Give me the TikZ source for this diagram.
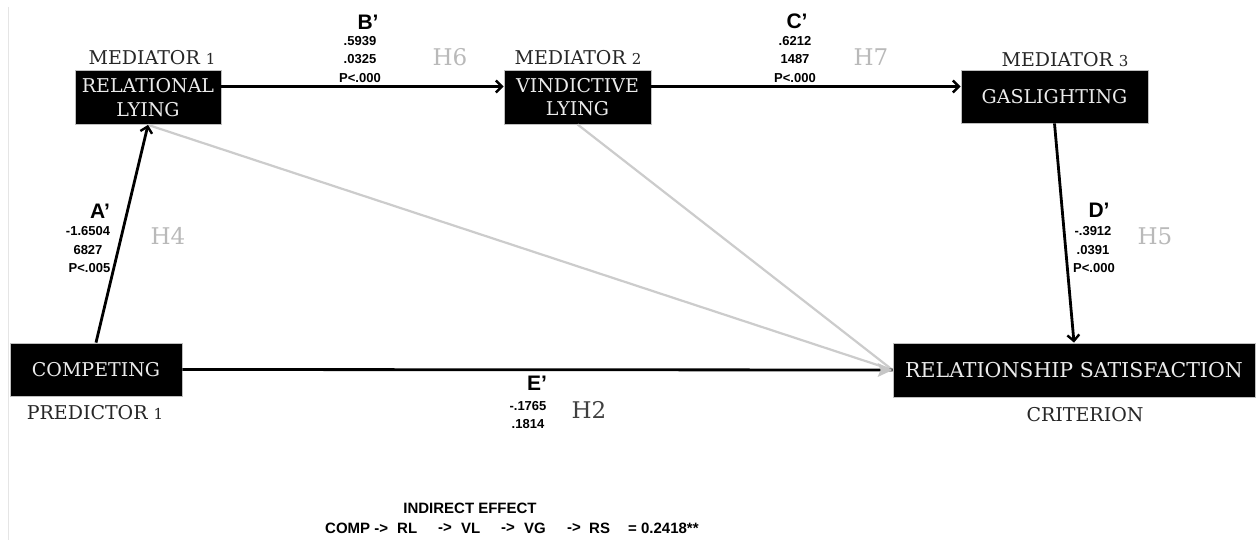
\documentclass[tikz,border=0pt]{standalone}
\usepackage{fontspec}
\setmainfont{DejaVu Serif}
\setsansfont{Liberation Sans}
\usetikzlibrary{arrows.meta,positioning}
\tikzset{
  varbox/.style={fill=black, draw=gray!50, line width=0.8pt, text=white!92!black, inner sep=0pt, align=center,
    font=\fontsize{19}{23.5}\selectfont},
  captxt/.style={text=black!85, font=\fontsize{19}{22}\selectfont, inner sep=0pt},
  arrowpath/.style={line width=2.8pt, black, -{Straight Barb[length=6pt,width=12pt,line width=2.4pt]}},
  grayline/.style={line width=2.2pt, gray!40},
  coef/.style={font=\sffamily\bfseries\fontsize{21}{24}\selectfont, inner sep=0pt},
  stat/.style={font=\sffamily\bfseries\fontsize{13}{18.5}\selectfont, inner sep=0pt, align=center},
  hyp/.style={font=\fontsize{23}{26}\selectfont, text=gray!55, inner sep=0pt},
  eff/.style={font=\sffamily\bfseries\fontsize{15}{18}\selectfont, inner sep=0pt},
  effw/.style={eff, anchor=west},
}
\newcommand{\smalldig}[1]{{\fontsize{15}{18}\selectfont #1}}
\begin{document}
\begin{tikzpicture}[x=1pt,y=-1pt]
\useasboundingbox (0,0) rectangle (1259,540);
\fill[white] (0,0) rectangle (1259,540);
\draw[gray!20, line width=1pt] (8,7) -- (8,540);

% boxes
\node[varbox, minimum width=146pt, minimum height=54pt] (RL) at (148,97.5) {RELATIONAL\\LYING};
\node[varbox, minimum width=147pt, minimum height=54pt] (VL) at (577.5,97) {VINDICTIVE\\LYING};
\node[varbox, minimum width=187pt, minimum height=53pt] (GL) at (1054.5,96.5) {GASLIGHTING};
\node[varbox, minimum width=172pt, minimum height=53pt] (CP) at (96,369.5) {COMPETING};
\node[varbox, minimum width=362pt, minimum height=54pt, font=\fontsize{20.5}{24}\selectfont] (RS) at (1074,370) {RELATIONSHIP SATISFACTION};

% captions
\node[captxt] (m1) at (152,58) {MEDIATOR \smalldig{1}};
\node[captxt] (m2) at (578,58) {MEDIATOR \smalldig{2}};
\node[captxt] (m3) at (1065,60) {MEDIATOR \smalldig{3}};
\node[captxt] (p1) at (95,413) {PREDICTOR \smalldig{1}};
\node[captxt] (cr) at (1085,415) {CRITERION};

% connectors
\draw[grayline] (RL.south) -- (RS.west);
\draw[grayline] (VL.south) -- (RS.west);
\draw[line width=2.8pt] (CP.east) -- (RS.west);
\fill[gray!45] (RS.west) -- ++(-15,-7) -- ++(3,7) -- ++(-3,7) -- cycle;
\draw[arrowpath] ([yshift=11pt]RL.east) -- ([yshift=10.5pt]VL.west);
\draw[arrowpath] ([yshift=10.5pt]VL.east) -- ([yshift=10pt]GL.west);
\draw[arrowpath] (CP.north) -- (RL.south);
\draw[arrowpath] (GL.south) -- (RS.north);

% coefficient labels
\node[coef] (Bl) at (368,22) {B’};
\node[stat] (Bs) at (360,59.5) {.5939\\.0325\\P<.000};
\node[hyp] (H6) at (450,57) {H6};

\node[coef] (Cl) at (797,21) {C’};
\node[stat] (Cs) at (795,59.5) {.6212\\1487\\P<.000};
\node[hyp] (H7) at (871,57) {H7};

\node[coef] (Al) at (100,211) {A’};
\node[stat] (As) at (88,250) {-1.6504\\6827\\\hspace*{3pt}P<.005};
\node[hyp] (H4) at (168,236) {H4};

\node[coef] (Dl) at (1099,210) {D’};
\node[stat] (Ds) at (1093,250) {-.3912\\.0391\\\hspace*{2pt}P<.000};
\node[hyp] (H5) at (1155,236) {H5};

\node[coef] (El) at (537,383) {E’};
\node[stat] (Es) at (528,415) {-.1765\\.1814};
\node[hyp, text=black!75] (H2) at (589,410) {H2};

% indirect effect
\node[eff] (ie) at (470,508) {INDIRECT EFFECT};
\node[effw] (i1) at (325,528) {COMP ->};
\node[effw] (i2) at (397,528) {RL};
\node[effw] (i3) at (438,528) {->};
\node[effw] (i4) at (461,528) {VL};
\node[effw] (i5) at (501,528) {->};
\node[effw] (i6) at (524,528) {VG};
\node[effw] (i7) at (567,528) {->};
\node[effw] (i8) at (589,528) {RS};
\node[effw] (i9) at (628,528) {= 0.2418**};
\end{tikzpicture}
\end{document}
